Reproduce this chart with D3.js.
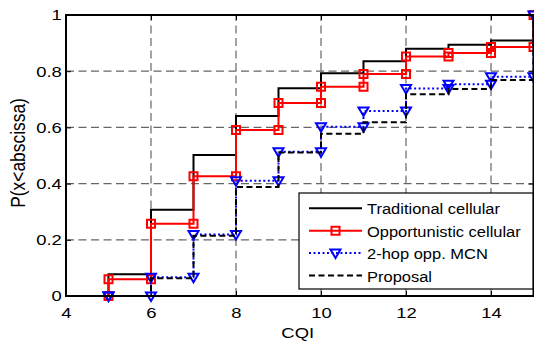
<!DOCTYPE html>
<html>
<head>
<meta charset="utf-8">
<script src="https://cdn.jsdelivr.net/npm/d3@7"></script>
<style>
  body { margin: 0; background: #fff; }
  text { font-family: "Liberation Sans", Arial, sans-serif; fill: #000; }
</style>
</head>
<body>
<svg id="chart" width="534" height="345"></svg>
<script>
// step positions (CQI) and CDF values
var xSteps = [5, 6, 7, 8, 9, 10, 11, 12, 13, 14, 15];
var traditional = [0.077, 0.307, 0.502, 0.641, 0.739, 0.793, 0.835, 0.880, 0.894, 0.909, 1];
var opportunistic = [0.060, 0.257, 0.426, 0.591, 0.687, 0.745, 0.790, 0.852, 0.865, 0.886, 1];
var twoHop = [0, 0.067, 0.219, 0.410, 0.513, 0.602, 0.658, 0.738, 0.754, 0.780, 1];
var proposal = [0, 0.063, 0.214, 0.388, 0.511, 0.577, 0.618, 0.718, 0.737, 0.769, 1];

var seriesNames = ["Traditional cellular", "Opportunistic cellular", "2-hop opp. MCN", "Proposal"];
var xTicks = [4, 6, 8, 10, 12, 14];
var yTicks = [0, 0.2, 0.4, 0.6, 0.8, 1];

var svg = d3.select("#chart");
var x = d3.scaleLinear().domain([4, 15]).range([66, 533.5]);
var y = d3.scaleLinear().domain([0, 1]).range([296, 15]);
var sx = 1.19; // figure text looks horizontally stretched

// grid
var grid = svg.append("g");
grid.selectAll(".gx").data(xTicks.slice(1)).enter().append("line")
    .attr("x1", function (d) { return x(d); }).attr("x2", function (d) { return x(d); })
    .attr("y1", y(0)).attr("y2", y(1));
grid.selectAll(".gy").data(yTicks.slice(1, -1)).enter().append("line")
    .attr("y1", function (d) { return y(d); }).attr("y2", function (d) { return y(d); })
    .attr("x1", x(4)).attr("x2", x(15));
grid.selectAll("line").attr("stroke", "#666").attr("stroke-width", 1.2).attr("stroke-dasharray", "8,4.5");

// axes (ticks point inward like matlab)
var xAxis = svg.append("g").attr("transform", "translate(0," + y(0) + ")")
    .call(d3.axisBottom(x).tickValues(xTicks).tickSizeInner(-5).tickSizeOuter(0).tickPadding(11));
var yAxis = svg.append("g").attr("transform", "translate(" + x(4) + ",0)")
    .call(d3.axisLeft(y).tickValues(yTicks).tickSizeInner(-5).tickSizeOuter(0).tickPadding(3.5)
        .tickFormat(d3.format("~g")));
svg.append("g").attr("transform", "translate(0," + y(1) + ")")
    .call(d3.axisTop(x).tickValues(xTicks).tickSizeInner(-5).tickSizeOuter(0).tickFormat(""));
svg.append("g").attr("transform", "translate(" + x(15) + ",0)")
    .call(d3.axisRight(y).tickValues(yTicks).tickSizeInner(-5).tickSizeOuter(0).tickFormat(""));
svg.selectAll(".domain").remove();
svg.selectAll(".tick line").attr("stroke", "#000").attr("stroke-width", 1);
svg.selectAll(".tick text").attr("font-size", "15.5px").attr("fill", "#000")
    .attr("font-family", "Liberation Sans, Arial, sans-serif")
    .attr("transform", "scale(" + sx + ",1)");

function stairs(vals) {
    var pts = [], prev = 0;
    xSteps.forEach(function (xv, i) {
        pts.push([xv, prev]);
        pts.push([xv, vals[i]]);
        prev = vals[i];
    });
    return pts;
}

var line = d3.line().x(function (d) { return x(d[0]); }).y(function (d) { return y(d[1]); });
var square = "M-4,-4H4V4H-4Z";
var tri = "M-5,-3.5L5,-3.5L0,5Z";

var styles = [
    { vals: traditional, color: "#000", dash: null, marker: null },
    { vals: opportunistic, color: "#ff0000", dash: null, marker: square },
    { vals: twoHop, color: "#0000ff", dash: "2,2.5", marker: tri },
    { vals: proposal, color: "#000", dash: "6,3.5", marker: null }
];

styles.forEach(function (s) {
    var pts = stairs(s.vals);
    svg.append("path").datum(pts).attr("d", line)
        .attr("fill", "none").attr("stroke", s.color).attr("stroke-width", 2)
        .attr("stroke-dasharray", s.dash);
    if (s.marker) {
        svg.append("g").selectAll("path").data(pts).enter().append("path")
            .attr("d", s.marker)
            .attr("transform", function (d) { return "translate(" + x(d[0]) + "," + y(d[1]) + ")"; })
            .attr("fill", "none").attr("stroke", s.color).attr("stroke-width", 2);
    }
});

// axes box
svg.append("rect").attr("x", x(4)).attr("y", y(1))
    .attr("width", x(15) - x(4)).attr("height", y(0) - y(1))
    .attr("fill", "none").attr("stroke", "#000").attr("stroke-width", 2);

// axis labels
svg.append("text").attr("transform", "translate(" + ((x(4) + x(15)) / 2 - 2) + ",338) scale(" + sx + ",1)")
    .attr("text-anchor", "middle").attr("font-size", "15.5px").text("CQI");
svg.append("text").attr("transform", "translate(25," + 153 + ") scale(" + sx + ",1) rotate(-90)")
    .attr("text-anchor", "middle").attr("font-size", "17.4px").text("P(x<abscissa)");

// legend
var lg = svg.append("g");
lg.append("rect").attr("x", 299).attr("y", 193).attr("width", 234).attr("height", 96)
    .attr("fill", "#fff").attr("stroke", "#000").attr("stroke-width", 1.2);
styles.forEach(function (s, i) {
    var cy = 208.3 + i * 22.4;
    lg.append("line").attr("x1", 309).attr("x2", 362).attr("y1", cy).attr("y2", cy)
        .attr("stroke", s.color).attr("stroke-width", 2).attr("stroke-dasharray", s.dash);
    if (s.marker) {
        lg.append("path").attr("d", s.marker).attr("transform", "translate(335.5," + cy + ")")
            .attr("fill", "none").attr("stroke", s.color).attr("stroke-width", 2);
    }
    lg.append("text").attr("transform", "translate(367," + (cy + 6) + ") scale(1.07,1)")
        .attr("font-size", "15.4px").text(seriesNames[i]);
});
</script>
</body>
</html>
